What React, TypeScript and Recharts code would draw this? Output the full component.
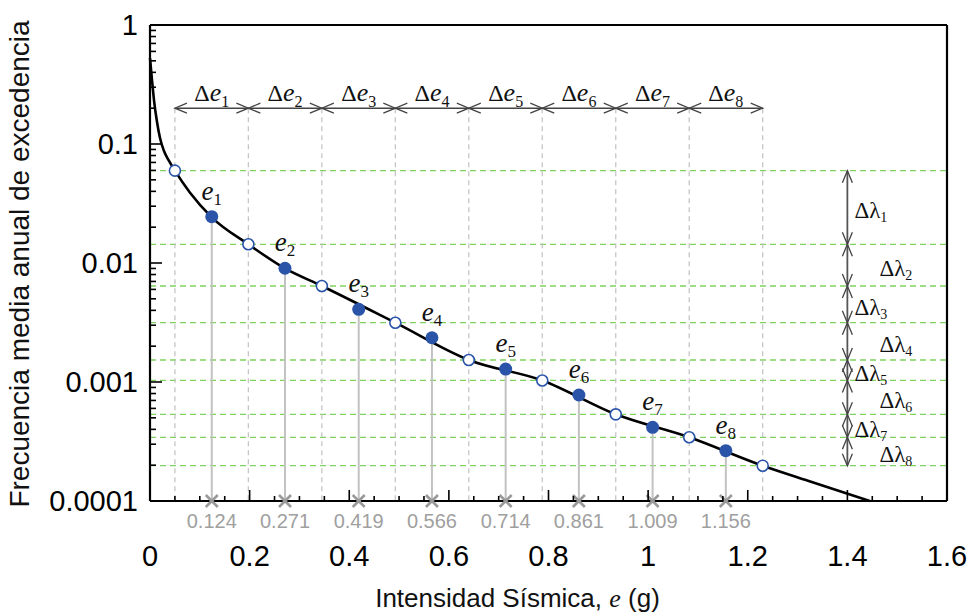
import React from 'react';
import { ComposedChart, Line, Scatter, XAxis, YAxis, ReferenceLine } from 'recharts';

// ---- data ----
const curveX = [0, 0.004, 0.008, 0.0141, 0.0201, 0.0281, 0.0382, 0.05, 0.08, 0.124, 0.1975, 0.271, 0.345, 0.4925, 0.64, 0.7875, 0.935, 1.0825, 1.23, 1.33, 1.445];
const curveLambda = [0.528, 0.345, 0.234, 0.153, 0.1122, 0.0873, 0.072, 0.0597, 0.0391, 0.0242, 0.01436, 0.009, 0.00641, 0.00315, 0.00153, 0.00103, 0.000535, 0.000343, 0.000198, 0.000144, 0.0001];

const boundaryE = [0.05, 0.1975, 0.345, 0.4925, 0.64, 0.7875, 0.935, 1.0825, 1.23];
const boundaryLambda = [0.0597, 0.01436, 0.00641, 0.00315, 0.00153, 0.00103, 0.000535, 0.000343, 0.000198];

const midE = [0.124, 0.271, 0.419, 0.566, 0.714, 0.861, 1.009, 1.156];
const midLambda = [0.0245, 0.00903, 0.00408, 0.002355, 0.001285, 0.000778, 0.000416, 0.000265];
const midLabels = ['0.124', '0.271', '0.419', '0.566', '0.714', '0.861', '1.009', '1.156'];

const xMajorTicks = [0, 0.2, 0.4, 0.6, 0.8, 1, 1.2, 1.4, 1.6];
const xTickLabels = ['0', '0.2', '0.4', '0.6', '0.8', '1', '1.2', '1.4', '1.6'];
const xMinorTicks = [0.05, 0.1, 0.15, 0.25, 0.3, 0.35, 0.45, 0.5, 0.55, 0.65, 0.7, 0.75, 0.85, 0.9, 0.95, 1.05, 1.1, 1.15, 1.25, 1.3, 1.35, 1.45, 1.5, 1.55];

const yMajorTicks = [0.0001, 0.001, 0.01, 0.1, 1];
const yTickLabels = ['0.0001', '0.001', '0.01', '0.1', '1'];
const yMinorMultipliers = [2, 3, 4, 5, 6, 7, 8, 9];

const xDomain = [0, 1.6];
const yDomain = [0.0001, 1];
const deltaEArrowLambda = 0.2; // level of the Δe arrow
const deltaLambdaArrowE = 1.4; // position of the Δλ arrow

// ---- derived structures ----
const curveData = curveX.map((x, i) => ({ x, y: curveLambda[i] }));
const openPts = boundaryE.map((x, i) => ({ x, y: boundaryLambda[i], i }));
const filledPts = midE.map((x, i) => ({ x, y: midLambda[i], i }));
const axisMarks = midE.map((x, i) => ({ x, y: yDomain[0], i }));
const topArrowPts = boundaryE.map((x, i) => ({ x, y: deltaEArrowLambda, i }));
const topLabelPts = midE.map((x, i) => ({ x, y: deltaEArrowLambda, i }));
const sideArrowPts = boundaryLambda.map((y, i) => ({ x: deltaLambdaArrowE, y, i }));
const sideLabelPts = boundaryLambda.slice(0, -1).map((y, i) => ({ x: deltaLambdaArrowE, y: Math.sqrt(y * boundaryLambda[i + 1]), i }));

const yMinorTicks: number[] = [];
yMajorTicks.slice(0, -1).forEach((d) => yMinorMultipliers.forEach((m) => yMinorTicks.push(d * m)));
const yAllTicks = [...yMajorTicks, ...yMinorTicks].sort((a, b) => a - b);
const xAllTicks = [...xMajorTicks, ...xMinorTicks].sort((a, b) => a - b);

const SANS = "'Liberation Sans', Arial, sans-serif";
const SERIF = "'Liberation Serif', 'Times New Roman', serif";
const BLUE = '#2a54a8';

const isMajorX = (v: number) => xMajorTicks.findIndex((t) => Math.abs(t - v) < 1e-9);
const isMajorY = (v: number) => yMajorTicks.findIndex((t) => Math.abs(t - v) / t < 1e-6);

const BottomTick = (p: any) => {
  const idx = isMajorX(p.payload.value);
  const len = idx >= 0 ? 11 : 5;
  return (
    <g>
      <line x1={p.x} x2={p.x} y1={p.y} y2={p.y - len} stroke="#000" strokeWidth={1.6} />
      {idx >= 0 && (
        <text x={p.x} y={p.y + 65} textAnchor="middle" fontSize={29} fontFamily={SANS} fill="#000">
          {xTickLabels[idx]}
        </text>
      )}
    </g>
  );
};
const TopTick = (p: any) => {
  const idx = isMajorX(p.payload.value);
  const len = idx >= 0 ? 11 : 5;
  return <line x1={p.x} x2={p.x} y1={p.y} y2={p.y + len} stroke="#000" strokeWidth={1.6} />;
};
const LeftTick = (p: any) => {
  const idx = isMajorY(p.payload.value);
  const len = idx >= 0 ? 12 : 6;
  return (
    <g>
      <line x1={p.x} x2={p.x + len} y1={p.y} y2={p.y} stroke="#000" strokeWidth={1.6} />
      {idx >= 0 && (
        <text x={p.x - 12} y={p.y + 10} textAnchor="end" fontSize={29} fontFamily={SANS} fill="#000">
          {yTickLabels[idx]}
        </text>
      )}
    </g>
  );
};
const RightTick = (p: any) => {
  const idx = isMajorY(p.payload.value);
  const len = idx >= 0 ? 12 : 6;
  return <line x1={p.x} x2={p.x - len} y1={p.y} y2={p.y} stroke="#000" strokeWidth={1.6} />;
};

const OpenDot = (p: any) => <circle cx={p.cx} cy={p.cy} r={5.5} fill="#fff" stroke={BLUE} strokeWidth={1.6} />;

const FilledDot = (p: any) => (
  <g>
    <circle cx={p.cx} cy={p.cy} r={6.5} fill={BLUE} />
    <text x={p.cx} y={p.cy - 17} textAnchor="middle" fontFamily={SERIF} fill="#111">
      <tspan fontSize={27} fontStyle="italic">e</tspan>
      <tspan fontSize={17} dy={5}>{p.payload.i + 1}</tspan>
    </text>
  </g>
);

const AxisMark = (p: any) => (
  <g>
    <line x1={p.cx - 6} x2={p.cx + 6} y1={p.cy - 6} y2={p.cy + 6} stroke="#9a9a9a" strokeWidth={2.6} />
    <line x1={p.cx - 6} x2={p.cx + 6} y1={p.cy + 6} y2={p.cy - 6} stroke="#9a9a9a" strokeWidth={2.6} />
    <text x={p.cx} y={p.cy + 27} textAnchor="middle" fontSize={20} fontFamily={SANS} fill="#a0a0a0">
      {midLabels[p.payload.i]}
    </text>
  </g>
);

const TopArrowHead = (p: any) => {
  const i = p.payload.i;
  const n = boundaryE.length - 1;
  const { cx, cy } = p;
  return (
    <g fill="none" stroke="#444" strokeWidth={1.3}>
      {i > 0 && <polyline points={`${cx - 12},${cy - 5} ${cx},${cy} ${cx - 12},${cy + 5}`} />}
      {i < n && <polyline points={`${cx + 12},${cy - 5} ${cx},${cy} ${cx + 12},${cy + 5}`} />}
    </g>
  );
};

const SideArrowHead = (p: any) => {
  const i = p.payload.i;
  const n = boundaryLambda.length - 1;
  const { cx, cy } = p;
  return (
    <g fill="none" stroke="#444" strokeWidth={1.3}>
      {i > 0 && <polyline points={`${cx - 5},${cy - 12} ${cx},${cy} ${cx + 5},${cy - 12}`} />}
      {i < n && <polyline points={`${cx - 5},${cy + 12} ${cx},${cy} ${cx + 5},${cy + 12}`} />}
    </g>
  );
};

const TopLabel = (p: any) => (
  <text x={p.cx} y={p.cy - 7} textAnchor="middle" fontFamily={SERIF} fill="#111">
    <tspan fontSize={24}>Δ</tspan>
    <tspan fontSize={26} fontStyle="italic">e</tspan>
    <tspan fontSize={16} dy={6}>{p.payload.i + 1}</tspan>
  </text>
);

const SideLabel = (p: any) => {
  const i = p.payload.i;
  const dx = i % 2 === 0 ? 7 : 32;
  return (
    <text x={p.cx + dx} y={p.cy + 11} textAnchor="start" fontFamily={SERIF} fill="#111">
      <tspan fontSize={23}>Δλ</tspan>
      <tspan fontSize={14} dy={4}>{i + 1}</tspan>
    </text>
  );
};

export default function App() {
  return (
    <div style={{ position: 'absolute', left: 0, top: 0, width: 967, height: 612, background: '#fff' }}>
      <ComposedChart width={967} height={612} margin={{ top: 24, right: 19, bottom: 11, left: 20 }}>
        <XAxis
          xAxisId={0}
          dataKey="x"
          type="number"
          domain={xDomain}
          ticks={xAllTicks}
          interval={0}
          tickLine={false}
          tickSize={0}
          tickMargin={0}
          tick={BottomTick}
          axisLine={{ stroke: '#000', strokeWidth: 2.2 }}
          height={100}
          label={{
            content: (lp: any) => {
              const vb = lp.viewBox;
              const cx = vb.x + vb.width / 2 - 31;
              return (
                <text x={cx} y={vb.y + 106} textAnchor="middle" fontSize={26} fontFamily={SANS} fill="#111">
                  Intensidad Sísmica,{' '}
                  <tspan fontFamily={SERIF} fontStyle="italic">e</tspan> (g)
                </text>
              );
            },
          }}
        />
        <XAxis
          xAxisId="top"
          orientation="top"
          type="number"
          domain={xDomain}
          ticks={xAllTicks}
          interval={0}
          tickLine={false}
          tickSize={0}
          tickMargin={0}
          tick={TopTick}
          axisLine={{ stroke: '#000', strokeWidth: 2.2 }}
          height={1}
        />
        <YAxis
          yAxisId={0}
          dataKey="y"
          type="number"
          scale="log"
          domain={yDomain}
          ticks={yAllTicks}
          interval={0}
          tickLine={false}
          tickSize={0}
          tickMargin={0}
          tick={LeftTick}
          axisLine={{ stroke: '#000', strokeWidth: 2.2 }}
          width={130}
          label={{
            content: (lp: any) => {
              const vb = lp.viewBox;
              const cx = vb.x + 9;
              const cy = vb.y + vb.height / 2 + 1;
              return (
                <text x={cx} y={cy} transform={`rotate(-90 ${cx} ${cy})`} textAnchor="middle" fontSize={28} fontFamily={SANS} fill="#111">
                  Frecuencia media anual de excedencia
                </text>
              );
            },
          }}
        />
        <YAxis
          yAxisId="right"
          orientation="right"
          type="number"
          scale="log"
          domain={yDomain}
          ticks={yAllTicks}
          interval={0}
          tickLine={false}
          tickSize={0}
          tickMargin={0}
          tick={RightTick}
          axisLine={{ stroke: '#000', strokeWidth: 2.2 }}
          width={1}
        />

        {boundaryLambda.map((l, i) => (
          <ReferenceLine key={`g${i}`} y={l} stroke="#7fd25e" strokeWidth={1.3} strokeDasharray="6 4" />
        ))}
        {boundaryE.map((e, i) => (
          <ReferenceLine
            key={`v${i}`}
            segment={[{ x: e, y: deltaEArrowLambda }, { x: e, y: yDomain[0] }]}
            stroke="#c6c6c6"
            strokeWidth={1.3}
            strokeDasharray="5 4"
          />
        ))}
        {midE.map((e, i) => (
          <ReferenceLine
            key={`s${i}`}
            segment={[{ x: e, y: midLambda[i] }, { x: e, y: yDomain[0] }]}
            stroke="#c2c2c2"
            strokeWidth={2}
          />
        ))}
        <ReferenceLine
          segment={[{ x: boundaryE[0], y: deltaEArrowLambda }, { x: boundaryE[boundaryE.length - 1], y: deltaEArrowLambda }]}
          stroke="#444"
          strokeWidth={1.4}
        />
        <ReferenceLine
          segment={[{ x: deltaLambdaArrowE, y: boundaryLambda[0] }, { x: deltaLambdaArrowE, y: boundaryLambda[boundaryLambda.length - 1] }]}
          stroke="#555"
          strokeWidth={1.8}
        />

        <Line data={curveData} dataKey="y" type="monotone" stroke="#000" strokeWidth={2.6} dot={false} activeDot={false} isAnimationActive={false} />

        <Scatter data={axisMarks} dataKey="y" shape={AxisMark} isAnimationActive={false} />
        <Scatter data={openPts} dataKey="y" shape={OpenDot} isAnimationActive={false} />
        <Scatter data={filledPts} dataKey="y" shape={FilledDot} isAnimationActive={false} />
        <Scatter data={topArrowPts} dataKey="y" shape={TopArrowHead} isAnimationActive={false} />
        <Scatter data={topLabelPts} dataKey="y" shape={TopLabel} isAnimationActive={false} />
        <Scatter data={sideArrowPts} dataKey="y" shape={SideArrowHead} isAnimationActive={false} />
        <Scatter data={sideLabelPts} dataKey="y" shape={SideLabel} isAnimationActive={false} />
      </ComposedChart>
    </div>
  );
}
